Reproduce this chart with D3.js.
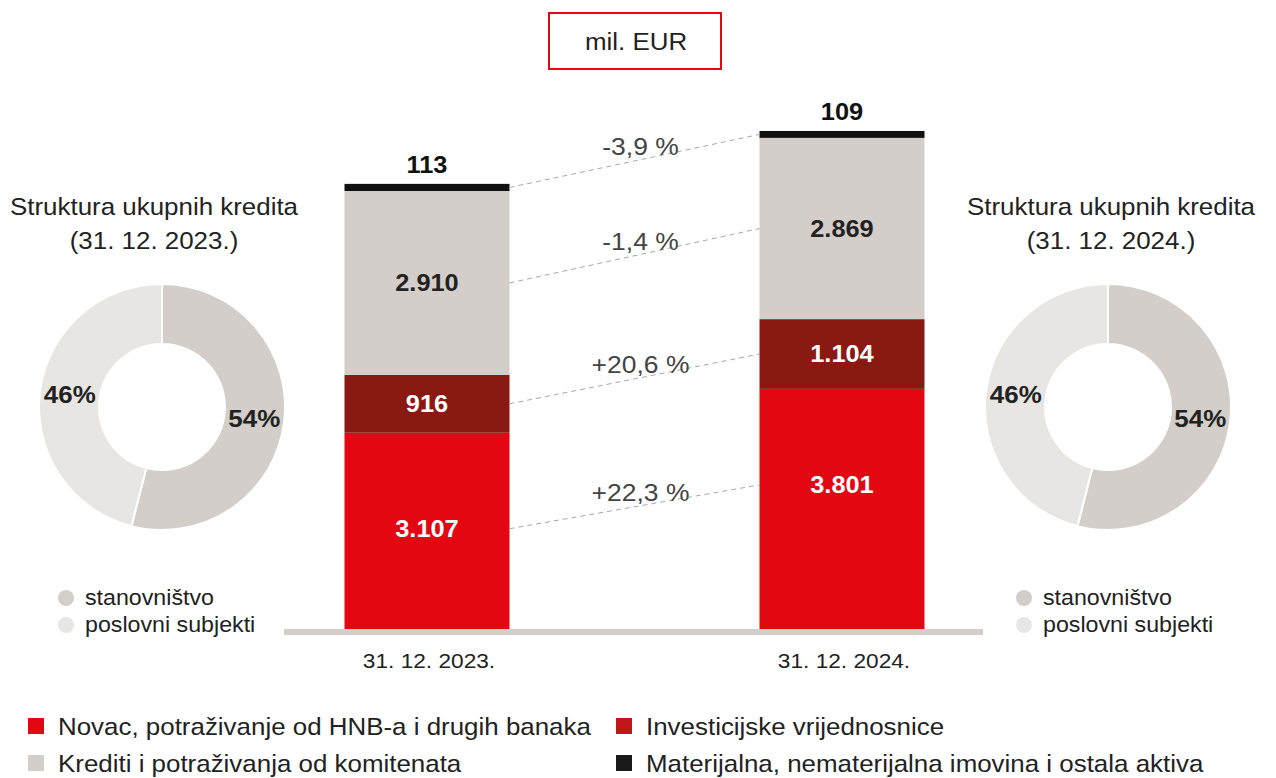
<!DOCTYPE html>
<html>
<head>
<meta charset="utf-8">
<script src="https://cdn.jsdelivr.net/npm/d3@7"></script>
<style>
  html, body { margin: 0; padding: 0; background: #fff; }
  svg { display: block; font-family: "Liberation Sans", Arial, sans-serif; }
</style>
</head>
<body>
<div id="chart"></div>
<script>
// data
const periods = ["31. 12. 2023.", "31. 12. 2024."];
const seriesNames = [
  "Novac, potraživanje od HNB-a i drugih banaka",
  "Investicijske vrijednosnice",
  "Krediti i potraživanja od komitenata",
  "Materijalna, nematerijalna imovina i ostala aktiva"
];
const cash = [3107, 3801];
const securities = [916, 1104];
const loans = [2910, 2869];
const other = [113, 109];
const changes = ["+22,3 %", "+20,6 %", "-1,4 %", "-3,9 %"];

const donutTitles = ["Struktura ukupnih kredita", "Struktura ukupnih kredita"];
const donutDates = ["(31. 12. 2023.)", "(31. 12. 2024.)"];
const donutCategories = ["stanovništvo", "poslovni subjekti"];
const donut2023 = [54, 46];
const donut2024 = [54, 46];

(function () {
  const W = 1276, H = 778;
  const svg = d3.select("#chart").append("svg")
    .attr("width", W)
    .attr("height", H);

  const barColors = ["#e30613", "#8a1912", "#d3cec9", "#111111"];
  const legendColors = ["#e30613", "#c0171c", "#d3cec9", "#1a1a1a"];
  const labelColors = ["#fff", "#fff", "#222", "#111"];

  // the source text is a bit wider than Arial, stretch it slightly
  const SX = 1.08;
  const val = (v, d, i) => (typeof v === "function" ? v(d, i) : v);
  function at(sel, xv, yv) {
    sel.attr("transform", (d, i) => `translate(${val(xv, d, i)},${val(yv, d, i)}) scale(${SX},1)`);
  }

  // unit box
  svg.append("rect")
    .attr("x", 549).attr("y", 13)
    .attr("width", 172).attr("height", 56)
    .attr("fill", "#fff")
    .attr("stroke", "#e30613")
    .attr("stroke-width", 2);
  svg.append("text")
    .call(at, 636, 50)
    .attr("text-anchor", "middle")
    .attr("font-size", 24)
    .attr("fill", "#222")
    .text("mil. EUR");

  // stacked bars
  const rows = periods.map((p, i) => ({
    period: p, s0: cash[i], s1: securities[i], s2: loans[i], s3: other[i]
  }));
  const keys = ["s0", "s1", "s2", "s3"];
  const stack = d3.stack().keys(keys)(rows);

  const x = d3.scalePoint().domain(periods).range([427, 842]);
  const barW = 165;
  const totals = rows.map(r => r.s0 + r.s1 + r.s2 + r.s3);
  const y = d3.scaleLinear().domain([0, d3.max(totals)]).range([629, 131]);

  // baseline band
  svg.append("rect")
    .attr("x", 284).attr("y", 629)
    .attr("width", 699).attr("height", 6)
    .attr("fill", "#d3cec9");

  const layers = svg.append("g").selectAll("g")
    .data(stack)
    .join("g")
    .attr("fill", (d, i) => barColors[i]);

  layers.selectAll("rect")
    .data(d => d)
    .join("rect")
    .attr("x", d => x(d.data.period) - barW / 2)
    .attr("y", d => y(d[1]))
    .attr("width", barW)
    .attr("height", d => y(d[0]) - y(d[1]));

  // label centre inside a segment: middle, but not deeper than ~96px from its top
  const labelY = d => y(d[1]) + Math.min((y(d[0]) - y(d[1])) / 2, 96);

  // connector lines + change labels
  const lineData = stack.map((layer, i) => {
    const a = layer[0], b = layer[1];
    return {
      i,
      x1: x(periods[0]) + barW / 2, y1: labelY(a),
      x2: x(periods[1]) - barW / 2, y2: labelY(b)
    };
  });

  svg.append("g").selectAll("line")
    .data(lineData)
    .join("line")
    .attr("x1", d => d.x1).attr("y1", d => d.y1)
    .attr("x2", d => d.x2).attr("y2", d => d.y2)
    .attr("stroke", "#a8a8a8")
    .attr("stroke-width", 1)
    .attr("stroke-dasharray", "5,4");

  svg.append("g").selectAll("text")
    .data(lineData)
    .join("text")
    .call(at, d => (d.x1 + d.x2) / 2 + 6, d => (d.y1 + d.y2) / 2 - 6)
    .attr("text-anchor", "middle")
    .attr("font-size", 24.5)
    .attr("fill", "#444")
    .text(d => changes[d.i]);

  // value labels
  const fmt = v => d3.format(",")(v).replace(/,/g, ".");
  stack.forEach((layer, i) => {
    svg.append("g").selectAll("text")
      .data(layer)
      .join("text")
      .call(at, d => x(d.data.period), d => (i === 3 ? y(d[1]) - 11 : labelY(d) + 8))
      .attr("text-anchor", "middle")
      .attr("font-size", 23.5)
      .attr("font-weight", 700)
      .attr("fill", labelColors[i])
      .text(d => fmt(d.data[keys[i]]));
  });

  // period labels
  svg.append("g").selectAll("text")
    .data(periods)
    .join("text")
    .call(at, d => x(d) + 2, 668)
    .attr("text-anchor", "middle")
    .attr("font-size", 21)
    .attr("fill", "#222")
    .text(d => d);

  // donuts
  const donutColors = ["#d3cec9", "#e8e6e3"];
  const pie = d3.pie().sort(null);
  const arc = d3.arc().innerRadius(63).outerRadius(123);
  const labelArc = d3.arc().innerRadius(93).outerRadius(93);

  const donuts = [
    { cx: 162, tx: 154, lx: 66, title: donutTitles[0], date: donutDates[0], values: donut2023 },
    { cx: 1108, tx: 1111, lx: 1024, title: donutTitles[1], date: donutDates[1], values: donut2024 }
  ];

  donuts.forEach(dn => {
    svg.append("text")
      .call(at, dn.tx, 215)
      .attr("text-anchor", "middle")
      .attr("font-size", 24)
      .attr("fill", "#222")
      .text(dn.title);
    svg.append("text")
      .call(at, dn.tx, 249)
      .attr("text-anchor", "middle")
      .attr("font-size", 24)
      .attr("fill", "#222")
      .text(dn.date);

    const g = svg.append("g").attr("transform", `translate(${dn.cx},407)`);
    const arcs = pie(dn.values);
    g.selectAll("path")
      .data(arcs)
      .join("path")
      .attr("d", arc)
      .attr("fill", (d, i) => donutColors[i])
      .attr("stroke", "#fff")
      .attr("stroke-width", 2);
    g.selectAll("text")
      .data(arcs)
      .join("text")
      .call(at, d => labelArc.centroid(d)[0], d => labelArc.centroid(d)[1] + 8)
      .attr("text-anchor", "middle")
      .attr("font-size", 24)
      .attr("font-weight", 700)
      .attr("fill", "#222")
      .text(d => d.data + "%");

    const leg = svg.append("g").selectAll("g")
      .data(donutCategories)
      .join("g")
      .attr("transform", (d, i) => `translate(${dn.lx},${598 + i * 27})`);
    leg.append("circle")
      .attr("r", 8)
      .attr("fill", (d, i) => donutColors[i]);
    leg.append("text")
      .call(at, 19, 7)
      .attr("font-size", 21.5)
      .attr("fill", "#222")
      .text(d => d);
  });

  // bottom legend
  const legendPos = [[28, 718], [616, 718], [28, 755], [616, 755]];
  const legend = svg.append("g").selectAll("g")
    .data(seriesNames)
    .join("g")
    .attr("transform", (d, i) => `translate(${legendPos[i][0]},${legendPos[i][1]})`);
  legend.append("rect")
    .attr("width", 16).attr("height", 16)
    .attr("fill", (d, i) => legendColors[i]);
  legend.append("text")
    .call(at, 30, 17)
    .attr("font-size", 24)
    .attr("fill", "#222")
    .text(d => d);
})();
</script>
</body>
</html>
